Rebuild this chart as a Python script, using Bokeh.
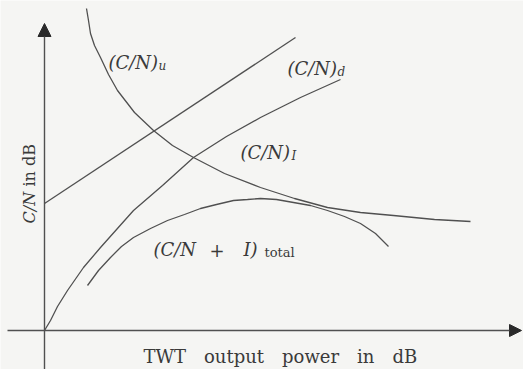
from bokeh.plotting import figure
from bokeh.models import Range1d, Arrow, NormalHead
from bokeh.core.properties import value
from bokeh.embed import file_html
from bokeh.resources import INLINE

# Values (x: TWT output power, y: C/N, arbitrary dB units, origin at axes crossing)
uplink_x = [0, 251]
uplink_y = [127, 293]

downlink_x = [0, 6, 13, 23, 39, 56, 89, 118, 149, 182, 216, 256, 296]
downlink_y = [0, 10, 24, 40, 63, 83, 120, 145, 173, 194, 213, 233, 251]

intermod_x = [42, 44, 46, 50, 56, 64, 73, 90, 109, 128, 149, 180, 216, 250, 283, 316, 349, 390, 426]
intermod_y = [322, 310, 297, 285, 273, 256, 240, 218, 200, 185, 173, 157, 143, 132, 123, 118, 115, 111, 109]

total_x = [43, 54, 66, 77, 89, 106, 123, 140, 156, 172, 189, 203, 216, 232, 249, 266, 283, 300, 316, 331, 344]
total_y = [45, 60, 73, 84, 93, 102, 110, 116, 122, 126, 130, 131, 132, 131, 128, 125, 120, 114, 107, 97, 84]

x_label = "TWT\u2003output\u2003power\u2003in\u2003dB"
y_label_italic = "C/N"
y_label_plain = "in dB"

BG = "#f5f5f3"
INK = "#505050"
TXT = "#3a3a3a"
SERIF = value("DejaVu Serif")

p = figure(width=523, height=369, output_backend="svg", toolbar_location=None,
           x_range=Range1d(-44, 479), y_range=Range1d(-39, 330),
           min_border=0, background_fill_color=BG, border_fill_color=BG,
           outline_line_color=None)
p.axis.visible = False
p.grid.visible = False

for xs, ys in [(uplink_x, uplink_y), (downlink_x, downlink_y),
               (intermod_x, intermod_y), (total_x, total_y)]:
    p.line(xs, ys, line_color=INK, line_width=1.3)

# axes with arrow heads
p.add_layout(Arrow(end=NormalHead(size=13, fill_color="#2a2a2a", line_color="#2a2a2a"),
                   x_start=0, y_start=-39, x_end=0, y_end=307,
                   line_color=INK, line_width=1.4))
p.add_layout(Arrow(end=NormalHead(size=12, fill_color="#2a2a2a", line_color="#2a2a2a"),
                   x_start=-37, y_start=0, x_end=477, y_end=0,
                   line_color=INK, line_width=1.4))

def txt(x, y, s, size, style="normal", angle=0.0):
    p.text(x=[x], y=[y], text=[s], text_font=SERIF, text_font_size=size,
           text_font_style=style, text_color=TXT, text_align="left",
           text_baseline="alphabetic", angle=angle)

# curve labels
txt(64, 268, "(C/N)", "18px", "italic")
txt(114, 265, "u", "12px", "italic")
txt(243, 262, "(C/N)", "18px", "italic")
txt(293, 259, "d", "12px", "italic")
txt(196, 178, "(C/N)", "18px", "italic")
txt(247, 175, "I", "12px", "italic")
txt(109, 81, "(C/N", "18px", "italic")
txt(165, 81, "+", "18px")
txt(199, 81, "I)", "18px", "italic")
txt(220, 78, "total", "13px")

# axis titles
txt(99, -26, x_label, "18px")
txt(-15, 107, y_label_italic, "16px", "italic", angle=1.5708)
txt(-15, 144, y_label_plain, "16px", "normal", angle=1.5708)

open("out.html", "w").write(file_html(p, INLINE))
